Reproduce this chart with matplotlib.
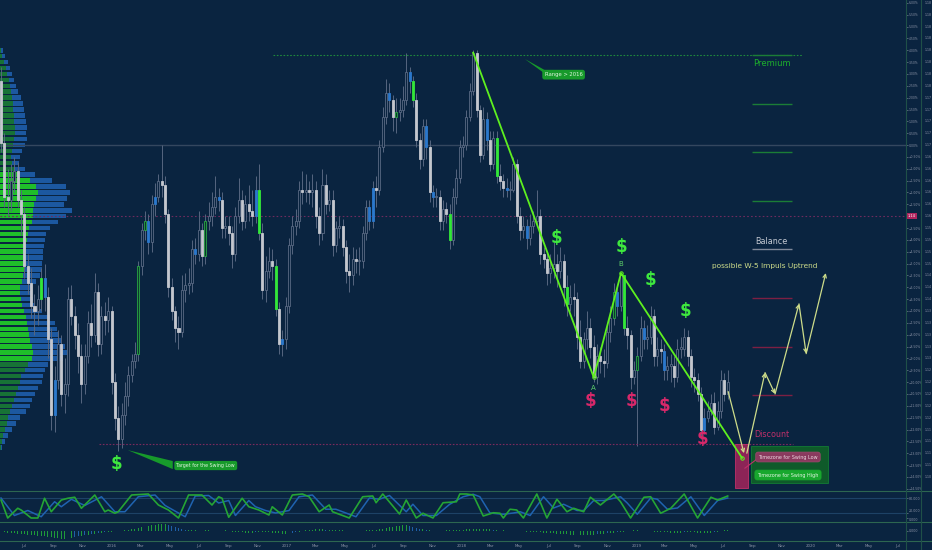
import numpy as np
import pandas as pd
import matplotlib
matplotlib.use('Agg')
import matplotlib.pyplot as plt
import matplotlib.dates as mdates
import matplotlib.transforms as mtrans
from matplotlib.patches import Rectangle, Polygon
from matplotlib.lines import Line2D
from matplotlib.ticker import FuncFormatter

BG = '#0a2440'

# weekly candles, price in % from the 0.00% reference
first_date = '2015-05-14'
first_open = 2.7
closes = [0.1, -2.2, -2.3, -1.5, -1.1, -2.3, -2.9, -5.1, -5.8, -6.8,
          -7.0, -6.5, -5.6, -6.4, -8.2, -11.4, -9.9, -8.4, -10.5, -10.1,
          -6.5, -7.2, -8.0, -8.9, -10.1, -8.9, -7.5, -8.0, -6.2, -8.4,
          -7.2, -7.4, -7.0, -10.0, -11.5, -12.4, -11.4, -10.6, -9.7, -9.1,
          -8.8, -5.1, -3.6, -3.2, -4.1, -2.5, -2.2, -1.5, -1.7, -2.9,
          -6.0, -7.0, -7.7, -7.9, -6.1, -5.9, -5.8, -4.4, -4.6, -3.6,
          -4.7, -3.2, -3.0, -2.6, -2.2, -2.3, -3.5, -3.4, -3.7, -4.6,
          -3.0, -2.3, -3.2, -2.5, -2.8, -3.0, -1.9, -3.7, -6.1, -5.3,
          -4.9, -5.1, -6.9, -8.4, -8.2, -6.8, -4.2, -3.4, -3.2, -1.9,
          -2.0, -1.9, -2.0, -1.9, -3.0, -3.7, -1.7, -2.5, -2.3, -4.2,
          -3.5, -3.4, -4.3, -5.3, -5.5, -4.8, -4.9, -4.9, -3.7, -2.6,
          -3.2, -1.8, -1.9, -0.1, 1.2, 2.2, 1.9, 1.2, 1.4, 1.5,
          1.9, 3.1, 2.7, 1.9, 0.2, -0.6, 0.8, -0.1, -2.0, -2.2,
          -2.2, -3.2, -2.7, -2.9, -4.0, -2.2, -1.4, -0.1, 0.0, 1.2,
          2.3, 3.9, 1.5, -0.4, 1.1, 0.2, -0.8, 0.3, -1.3, -1.5,
          -1.8, -1.9, -1.9, -0.8, -3.0, -3.6, -3.4, -3.9, -3.4, -3.2,
          -3.0, -4.6, -4.8, -5.4, -5.2, -5.0, -5.3, -4.9, -6.0, -6.7,
          -6.4, -6.5, -8.1, -9.1, -8.2, -7.7, -8.5, -9.8, -8.9, -9.1,
          -9.2, -7.9, -7.3, -6.2, -6.8, -5.5, -7.7, -8.0, -9.8, -9.5,
          -8.9, -7.7, -8.2, -8.1, -7.2, -8.9, -8.6, -8.7, -9.5, -9.3,
          -9.3, -9.8, -8.6, -8.6, -8.1, -8.9, -9.8, -9.9, -10.5, -12.0,
          -11.5, -11.2, -10.9, -11.9, -11.2, -9.9, -10.5, -10.0]
highs = [3.3, 0.5, -1.0, -0.8, -0.5, -0.7, -1.9, -2.6, -4.6, -5.2,
         -6.3, -5.9, -5.2, -5.0, -6.0, -7.7, -9.3, -7.8, -8.0, -9.0,
         -6.0, -5.9, -6.8, -7.5, -8.4, -8.4, -7.0, -6.7, -5.4, -5.8,
         -6.8, -6.6, -6.4, -6.8, -9.6, -11.0, -10.9, -10.0, -9.3, -8.8,
         -8.3, -4.9, -3.3, -2.8, -2.9, -2.1, -1.6, -1.2, 0.0, -1.3,
         -2.7, -5.6, -6.8, -7.2, -5.5, -5.4, -5.2, -4.0, -3.9, -2.8,
         -3.3, -2.9, -2.4, -2.0, -1.3, -1.8, -2.0, -3.0, -3.0, -3.4,
         -2.6, -1.4, -1.9, -2.1, -1.7, -1.9, -1.3, -0.8, -3.3, -4.7,
         -4.3, -4.4, -4.8, -6.6, -7.8, -6.4, -3.9, -3.0, -2.7, -1.5,
         -1.1, -1.2, -1.5, -1.2, -1.5, -2.6, -1.0, -1.2, -1.9, -1.9,
         -3.2, -3.0, -3.1, -4.0, -4.6, -4.3, -4.4, -4.3, -3.4, -2.3,
         -2.3, -1.5, -1.3, 0.2, 1.6, 2.8, 2.6, 2.1, 2.0, 2.0,
         2.5, 3.9, 3.3, 2.9, 2.2, 0.5, 1.1, 1.1, 0.2, -1.7,
         -1.8, -1.9, -2.3, -2.4, -2.5, -1.8, -1.0, 0.2, 0.4, 1.5,
         2.6, 4.0, 4.0, 1.7, 1.6, 1.4, 0.6, 0.6, 0.6, -0.8,
         -1.2, -1.4, -1.5, -0.5, -0.6, -2.6, -3.0, -3.1, -2.9, -2.8,
         -1.9, -2.7, -4.3, -4.5, -4.6, -4.1, -4.6, -4.3, -4.6, -5.5,
         -5.9, -5.8, -6.2, -7.4, -7.9, -7.0, -7.3, -8.0, -8.4, -8.5,
         -8.6, -7.6, -6.8, -5.8, -5.9, -5.4, -5.5, -7.2, -7.8, -9.1,
         -8.5, -7.2, -7.4, -7.6, -6.8, -6.9, -8.1, -8.2, -8.4, -8.9,
         -8.8, -8.9, -8.2, -8.1, -7.7, -7.8, -8.6, -9.4, -9.6, -10.2,
         -11.1, -10.8, -10.5, -10.4, -10.8, -9.5, -9.6, -9.5]
lows = [-0.3, -2.6, -3.0, -2.8, -2.0, -2.6, -3.8, -5.6, -6.3, -7.3,
        -8.0, -7.6, -7.0, -7.0, -9.0, -12.0, -12.1, -10.3, -11.0, -11.3,
        -10.6, -7.6, -8.6, -9.6, -10.9, -10.5, -9.2, -8.5, -8.3, -8.9,
        -8.8, -8.0, -7.9, -10.5, -12.0, -12.9, -12.8, -11.8, -11.0, -10.0,
        -9.4, -9.1, -5.5, -4.0, -4.6, -4.5, -3.0, -2.4, -2.2, -3.3,
        -6.4, -7.4, -8.3, -8.6, -8.1, -6.6, -6.3, -6.2, -5.0, -4.9,
        -5.1, -5.0, -3.6, -3.4, -2.9, -2.8, -3.9, -3.9, -4.2, -5.2,
        -4.9, -3.3, -3.6, -3.5, -3.2, -3.4, -3.3, -4.0, -6.5, -6.6,
        -5.6, -5.7, -7.2, -8.8, -8.9, -8.6, -7.1, -4.6, -3.8, -3.5,
        -2.5, -2.4, -2.5, -2.6, -3.5, -4.2, -4.0, -2.9, -2.8, -4.7,
        -4.5, -3.9, -4.7, -5.8, -6.2, -5.9, -5.4, -5.5, -5.2, -4.0,
        -3.6, -3.5, -2.6, -2.1, -0.3, 0.9, 1.4, 0.6, 0.5, 1.0,
        1.2, 1.7, 2.2, 1.6, -0.1, -1.0, -0.9, -0.6, -2.4, -2.6,
        -2.6, -3.6, -3.6, -3.3, -4.4, -4.2, -2.5, -1.6, -0.5, -0.2,
        1.0, 2.1, 1.2, -0.7, -0.6, -0.2, -1.1, -1.0, -1.6, -1.9,
        -2.2, -2.2, -2.3, -2.0, -3.3, -4.0, -3.9, -4.4, -4.2, -3.7,
        -3.4, -5.0, -5.2, -5.9, -5.8, -5.6, -6.0, -5.6, -6.8, -7.2,
        -7.0, -7.2, -8.6, -9.4, -9.4, -8.6, -9.0, -10.0, -10.1, -9.6,
        -9.8, -9.4, -8.3, -7.6, -7.2, -7.0, -8.0, -8.6, -10.3, -10.1,
        -12.7, -9.1, -8.6, -8.6, -8.4, -9.3, -9.3, -9.2, -9.9, -9.9,
        -10.0, -10.2, -10.0, -9.0, -8.9, -9.3, -10.2, -10.4, -10.8, -12.4,
        -12.2, -11.7, -11.4, -12.2, -12.0, -11.5, -10.8, -10.7]
# indicator-coloured candles: b = blue, g = bright green, o = green outline
candle_marks = {13: 'b', 16: 'b', 44: 'b', 46: 'b', 58: 'b', 65: 'b', 76: 'b', 84: 'b',
                110: 'b', 111: 'b', 116: 'b', 122: 'b', 127: 'b', 129: 'b', 145: 'b',
                151: 'b', 157: 'b', 184: 'b', 192: 'b', 198: 'b', 210: 'b',
                12: 'g', 77: 'g', 82: 'g', 123: 'g', 134: 'g', 148: 'g', 169: 'g', 186: 'g',
                41: 'o', 43: 'o', 61: 'o', 118: 'o', 183: 'o', 190: 'o'}

# volume profile (left), rows of 0.25 %
profile_levels = np.arange(4.0, -12.76, -0.25)
profile_total = [3, 5, 8, 10, 12, 14, 16, 18, 21, 23, 24, 25, 26, 27, 26, 27, 25, 22, 20, 19,
                 25, 35, 52, 66, 70, 67, 64, 72, 66, 58, 50, 46, 45, 44, 43, 43, 42, 42, 40, 36,
                 32, 31, 33, 35, 42, 50, 55, 57, 59, 61, 65, 67, 63, 48, 45, 43, 42, 38, 35, 32,
                 30, 26, 20, 16, 12, 8, 5, 2]
profile_green = [1, 2, 4, 6, 7, 9, 10, 11, 12, 13, 13, 14, 14, 15, 15, 14, 13, 12, 11, 12,
                 14, 17, 30, 36, 38, 36, 34, 33, 33, 32, 29, 28, 27, 26, 26, 25, 24, 24, 23, 22,
                 20, 20, 21, 22, 24, 26, 27, 28, 29, 30, 32, 33, 32, 28, 25, 21, 20, 18, 16, 14,
                 12, 10, 8, 7, 5, 3, 2, 1]

# stochastic turning points (candle index, value)
stoch_k_idx = [0, 2, 5, 6, 9, 11, 13, 15, 18, 20, 22, 24, 28, 31, 32, 34, 35, 39, 44, 47,
               50, 53, 56, 60, 63, 65, 66, 68, 72, 74, 77, 80, 81, 84, 87, 90, 92, 95, 98, 99,
               104, 108, 111, 112, 114, 119, 121, 124, 126, 129, 132, 136, 137, 139,
               141, 144, 147, 149, 150, 152, 154, 156, 160, 163, 166, 169, 171, 174, 176, 179,
               183, 185, 188, 192, 194, 197, 200, 204, 208, 212, 214, 217]
stoch_k = [72, 0, 39, 32, 0, 0, 79, 25, 72, 79, 83, 39, 92, 25, 32, 19, 25, 92, 96, 52,
           32, 0, 92, 92, 52, 85, 79, 3, 79, 45, 32, 12, 45, 12, 92, 96, 85, 25, 52, 25,
           0, 85, 88, 61, 96, 16, 72, 0, 19, 0, 61, 65, 96, 96,
           92, 8, 21, 19, 0, 35, 32, 0, 96, 0, 75, 25, 39, 25, 83, 52,
           96, 65, 0, 83, 85, 19, 39, 96, 0, 83, 72, 88]
stoch_d_idx = [0, 4, 8, 12, 16, 18, 21, 25, 30, 34, 37, 41, 46, 49, 55, 58, 62, 65, 68, 70,
               74, 76, 79, 82, 86, 89, 93, 97, 100, 106, 110, 113, 116, 121, 123, 126, 130, 134,
               138, 141, 143, 146, 150, 153, 155, 158, 162, 165, 168, 172, 174, 177, 180, 185,
               187, 190, 194, 196, 199, 202, 206, 210, 214, 217]
stoch_d = [80, 10, 30, 5, 65, 45, 75, 50, 85, 25, 25, 85, 92, 50, 5, 88, 90, 60, 70, 10,
           70, 45, 30, 20, 30, 85, 92, 35, 35, 5, 80, 75, 90, 25, 55, 10, 10, 55,
           85, 95, 85, 20, 15, 20, 25, 10, 85, 40, 55, 30, 30, 70, 70, 85,
           60, 15, 80, 75, 35, 40, 85, 10, 70, 80]

# momentum histogram, one bar per candle
momentum = [-1, -1, -2, -2, -2, -3,
            -3, -3, -4, -4, -4, -5, -5, -5,
            -6, -6, -7, -7, -8, -8, -7, -7, -6,
            -5, -5, -4, -4, -3, -3, -2, -2,
            -1, -1, -1, 0, 0, 0, 1, 1,
            2, 2, 3, 4, 5, 5,
            6, 6, 7, 7, 7, 6, 5, 4,
            3, 2, 1,
            1, 1, 1, 0, 0, 1, 1, 1, 0, 0, 0, 1, 0,
            -1, -1, -1, -1, -2, -2, -2, -1, -1, -1, -1,
            -1, -2, -2, -2, -3, -3, -3, -2, -1, -1,
            0, 1, 1, 1, 2, 2, 2, 1, 1, 1, 1,
            1, 1, 0, 0, 0, 0, 0,
            0, 1, 1, 1, 1,
            2, 2, 3, 4, 4, 5,
            5, 6, 6, 5,
            4, 3, 2, 2, 1, 1,
            0, 0, 0, 0, 1, 1, 1,
            1, 1, 1, 2, 2, 2, 2, 2, 2, 2, 2,
            1, 1, 1, 1,
            0, 0, 0, 0, 0, 0, -1, -1, -1,
            -1, -1, -2, -2, -2, -2, -3, -3,
            -3, -3, -4, -4, -4, -4, -4, -4, -4,
            -4, -3, -3, -3, -2, -2, -2, -1,
            -1, -1, 0, 0, 1, 1, 0, 0, 0, 0,
            -1, -1, -1, -1, -1, -2, -2, -2, -2, -1, -1, -1,
            -1, -2, -2, -2, -2, -2, -1, -1, -1, 1, 1]

# Elliott ABC drawing and projected path
wave_dates = ['2018-01-25', '2018-10-04', '2018-11-30', '2019-08-10']
wave_levels = [3.9, -9.8, -5.4, -13.2]
proj_first = [('2019-07-12', -10.4), ('2019-08-14', -13.0)]
proj_path = [('2019-08-20', -13.0), ('2019-09-27', -9.6), ('2019-10-18', -10.5),
             ('2019-12-07', -6.7), ('2019-12-22', -8.8), ('2020-02-01', -5.4)]

premium_levels = [3.8, 1.75, -0.3, -2.35]
balance_level = -4.4
discount_levels = [-6.45, -8.5, -10.55]
range_top = 3.8
swing_low = -12.6
last_price = -3.0

green_dollars = [('2016-01-11', -13.46), ('2018-07-19', -3.9), ('2018-11-30', -4.3),
                 ('2019-01-30', -5.7), ('2019-04-13', -7.0)]
red_dollars = [('2018-09-28', -10.8), ('2018-12-21', -10.8), ('2019-02-28', -11.0),
               ('2019-05-20', -12.4)]

pct_ticks = np.arange(6.0, -14.51, -0.5)
price_labels = ['1.18'] * 8 + ['1.17'] * 5 + ['1.16'] * 6 + ['1.15'] * 4 + ['1.14'] * 3 + \
               ['1.13'] * 5 + ['1.12'] * 5 + ['1.11'] * 4 + ['1.10'] * 2


def d(s):
    return mdates.date2num(pd.Timestamp(s))


W, H = 932, 550


def box(x0, y0, x1, y1):
    return [x0 / W, 1 - y1 / H, (x1 - x0) / W, (y1 - y0) / H]


fig = plt.figure(figsize=(9.32, 5.5), dpi=100, facecolor=BG)
ax = fig.add_axes(box(0, 0, 906, 489))
axs = fig.add_axes(box(0, 491, 906, 522), sharex=ax)
axh = fig.add_axes(box(0, 522, 906, 541), sharex=ax)
for a in (ax, axs, axh):
    a.set_facecolor(BG)
    for sp in a.spines.values():
        sp.set_visible(False)

# profile behind the candles
axp = ax.twiny()
axp.set_xlim(0, 906)
axp.set_axis_off()
ax.set_zorder(axp.get_zorder() + 1)
ax.patch.set_visible(False)
bright = (profile_levels <= -1.2) & (profile_levels >= -9.05)
axp.barh(profile_levels, profile_total, height=0.19, left=0, color='#1c58a0', align='center')
axp.barh(profile_levels, profile_green, height=0.19, left=0,
         color=np.where(bright, '#1fbe2a', '#177236'), align='center')

# candles
xs = mdates.date2num(pd.date_range(first_date, periods=len(closes), freq='7D'))
opens = [first_open] + closes[:-1]
ax.vlines(xs, lows, highs, color='#56667f', lw=0.7, zorder=2)
for i, (x, o, c) in enumerate(zip(xs, opens, closes)):
    mark = candle_marks.get(i)
    if mark == 'b':
        fc = ec = '#2b78cc'
    elif mark == 'g':
        fc = ec = '#33e639'
    elif mark == 'o':
        fc, ec = '#0d3a2c', '#2aa845'
    elif c < o:
        fc = ec = '#c4c7ce'
    else:
        fc, ec = BG, '#5a6a84'
    h = max(abs(c - o), 0.06)
    ax.add_patch(Rectangle((x - 2.1, min(o, c)), 4.2, h, fc=fc, ec=ec, lw=0.6, zorder=3))

# level lines
ax.axhline(0, color='#34475f', lw=1.0, zorder=1)
ax.axhline(last_price, color='#6e2b5e', lw=0.8, ls=(0, (1.5, 2)), zorder=1)
ax.hlines(range_top, d('2016-12-02'), d('2019-12-13'), color='#1f8a3c', lw=0.8, ls=(0, (1.5, 1.5)))
ax.hlines(swing_low, d('2015-12-05'), d('2019-11-24'), color='#7d2a5c', lw=0.8, ls=(0, (1.5, 1.5)))
ax.hlines(premium_levels, d('2019-08-31'), d('2019-11-22'), color='#1b7d36', lw=1.0)
ax.hlines(balance_level, d('2019-08-31'), d('2019-11-22'), color='#7f8899', lw=1.0)
ax.hlines(discount_levels, d('2019-08-31'), d('2019-11-22'), color='#7d1f43', lw=1.0)
ax.text(d('2019-10-11'), 3.46, 'Premium', color='#1db02c', fontsize=6, ha='center', va='center')
ax.text(d('2019-10-11'), -4.05, 'Balance', color='#c5cad3', fontsize=5.8, ha='center', va='center')
ax.text(d('2019-10-11'), -12.2, 'Discount', color='#c0306a', fontsize=5.8, ha='center', va='center')

# ABC wave
wx = [d(s) for s in wave_dates]
ax.plot(wx, wave_levels, color='#5ef01f', lw=1.3, zorder=5)
ax.plot(wx[1:], wave_levels[1:], 'o', ms=2.5, mfc='none', mec='#5ef01f', mew=0.7, zorder=6)
ax.text(wx[1], wave_levels[1] - 0.45, 'A', color='#5ecf6a', fontsize=5, ha='center', va='center')
ax.text(wx[2], wave_levels[2] + 0.4, 'B', color='#5ecf6a', fontsize=5, ha='center', va='center')
ax.text(wx[3], wave_levels[3] - 0.35, 'C', color='#5ecf6a', fontsize=5, ha='center', va='center')

# projected path
pc = '#cddc8a'
for seg in (proj_first, proj_path):
    for (s0, y0), (s1, y1) in zip(seg[:-1], seg[1:]):
        ax.annotate('', xy=(d(s1), y1), xytext=(d(s0), y0),
                    arrowprops=dict(arrowstyle='->', color=pc, lw=0.9, shrinkA=0, shrinkB=0,
                                    mutation_scale=6), zorder=6)
ax.text(d('2019-09-27'), -5.1, 'possible W-5 Impuls Uptrend', color=pc, fontsize=5.3,
        ha='center', va='center')

# timezone boxes
ax.add_patch(Rectangle((d('2019-07-26'), -14.47), d('2019-08-22') - d('2019-07-26'), 1.87,
                       fc='#8c2457', ec='#c0306a', lw=0.6, zorder=4))
ax.add_patch(Rectangle((d('2019-08-29'), -14.26), d('2020-02-05') - d('2019-08-29'), 1.56,
                       fc='#0f5a2a', ec='#137a35', lw=0.6, zorder=4))
ax.plot([d('2019-08-16'), d('2019-09-10')], [-13.63, -13.25], color='#c0306a', lw=0.8, zorder=6)
ax.text(d('2019-11-14'), -13.16, 'Timezone for Swing Low', color='#ecd6e0', fontsize=3.5,
        ha='center', va='center', zorder=7,
        bbox=dict(boxstyle='round,pad=0.5', fc='#8a3a5e', ec='#a04a70', lw=0.5))
ax.text(d('2019-11-14'), -13.92, 'Timezone for Swing High', color='#e2f6e2', fontsize=3.5,
        ha='center', va='center', zorder=7,
        bbox=dict(boxstyle='round,pad=0.5', fc='#18a82e', ec='#18a82e', lw=0.5))

# callouts
ax.add_patch(Polygon([(d('2018-05-13'), 3.63), (d('2018-06-24'), 3.16), (d('2018-06-28'), 2.95)],
                     closed=True, fc='#179a2b', ec='none', zorder=6))
ax.text(d('2018-08-02'), 2.97, 'Range > 2016', color='#dff5df', fontsize=3.8, ha='center',
        va='center', zorder=7, bbox=dict(boxstyle='round,pad=0.45', fc='#179a2b', ec='none'))
ax.add_patch(Polygon([(d('2016-02-03'), -12.87), (d('2016-05-07'), -13.33), (d('2016-05-07'), -13.67)],
                     closed=True, fc='#179a2b', ec='none', zorder=6))
ax.text(d('2016-07-15'), -13.52, 'Target for the Swing Low', color='#dff5df', fontsize=3.4,
        ha='center', va='center', zorder=7, bbox=dict(boxstyle='round,pad=0.45', fc='#179a2b', ec='none'))

for s, y in green_dollars:
    ax.text(d(s), y, '$', color='#3ee83e', fontsize=12, fontweight='bold', ha='center', va='center', zorder=7)
for s, y in red_dollars:
    ax.text(d(s), y, '$', color='#d8286a', fontsize=12, fontweight='bold', ha='center', va='center', zorder=7)

# axes ranges
x_left = d('2016-01-01') - 112 / 0.4784
x_right = d('2016-01-01') + 794 / 0.4784
ax.set_xlim(x_left, x_right)
ax.set_ylim(-14.51, 6.12)
ax.tick_params(axis='x', bottom=False, labelbottom=False)

# right price scale (the price tag covers the -3.00 % label)
tick_col = '#8a93a6'
ax.yaxis.tick_right()
ax.set_yticks(pct_ticks)
ax.set_yticklabels(['' if abs(v - last_price) < 1e-9 else f'{v:.2f}%'.replace('-', '\u2212')
                    for v in pct_ticks])
ax.tick_params(axis='y', labelsize=2.2, colors=tick_col, length=1.2, width=0.4, pad=0.6)
tr = mtrans.blended_transform_factory(ax.transAxes, ax.transData)
for v, lab in zip(pct_ticks[:-1], price_labels[:-1]):
    ax.text(1.0 + 18.5 / 906, v, lab, transform=tr, fontsize=2.3, color=tick_col,
            ha='left', va='center', clip_on=False)
ax.text(1.0 + 2 / 906, last_price, '1.14', transform=tr, fontsize=2.6, color='white',
        ha='left', va='center', clip_on=False, zorder=10,
        bbox=dict(boxstyle='square,pad=0.35', fc='#b0245e', ec='none'))

# stochastic panel
axs.set_ylim(-16, 108)
axs.axhline(80, color='#1d4266', lw=0.8)
axs.axhline(20, color='#1d4266', lw=0.8)
axs.plot(xs[stoch_d_idx], stoch_d, color='#1f63b0', lw=1.1)
axs.plot(xs[stoch_k_idx], stoch_k, color='#25a535', lw=1.2)
axs.yaxis.tick_right()
axs.set_yticks([80, 20, 0])
axs.set_yticklabels(['80.000', '20.000', '0.000'])
axs.tick_params(axis='y', labelsize=2.3, colors=tick_col, length=1.2, width=0.4, pad=0.6)
axs.get_yticklabels()[1].set_va('bottom')
axs.get_yticklabels()[2].set_va('top')
axs.tick_params(axis='x', bottom=False, labelbottom=False)

# momentum histogram
mom = np.array(momentum)
rising = np.r_[True, np.abs(mom[1:]) >= np.abs(mom[:-1])]
axh.bar(xs, mom, width=2.0, color=np.where(rising, '#1f9a3a', '#1f5fa8'))
axh.set_ylim(-10, 9)
axh.yaxis.tick_right()
axh.set_yticks([0])
axh.set_yticklabels(['0.000'])
axh.tick_params(axis='y', labelsize=2.3, colors=tick_col, length=1.2, width=0.4, pad=0.6)
axh.xaxis.set_major_locator(mdates.MonthLocator(bymonth=(1, 3, 5, 7, 9, 11)))
axh.xaxis.set_major_formatter(FuncFormatter(
    lambda v, pos: mdates.num2date(v).strftime('%Y' if mdates.num2date(v).month == 1 else '%b')))
axh.tick_params(axis='x', labelsize=2.9, colors=tick_col, length=0, pad=2.2)
ax.set_xlim(x_left, x_right)

# panel separators
sep = '#2d6650'
for yy in (491, 522, 541):
    fig.add_artist(Line2D([0, 1], [1 - yy / H] * 2, transform=fig.transFigure, color=sep, lw=0.8))
for xx in (906, 921):
    fig.add_artist(Line2D([xx / W] * 2, [0, 1], transform=fig.transFigure, color='#1f5048', lw=0.8))

fig.savefig('out.png', dpi=100, facecolor=BG)
